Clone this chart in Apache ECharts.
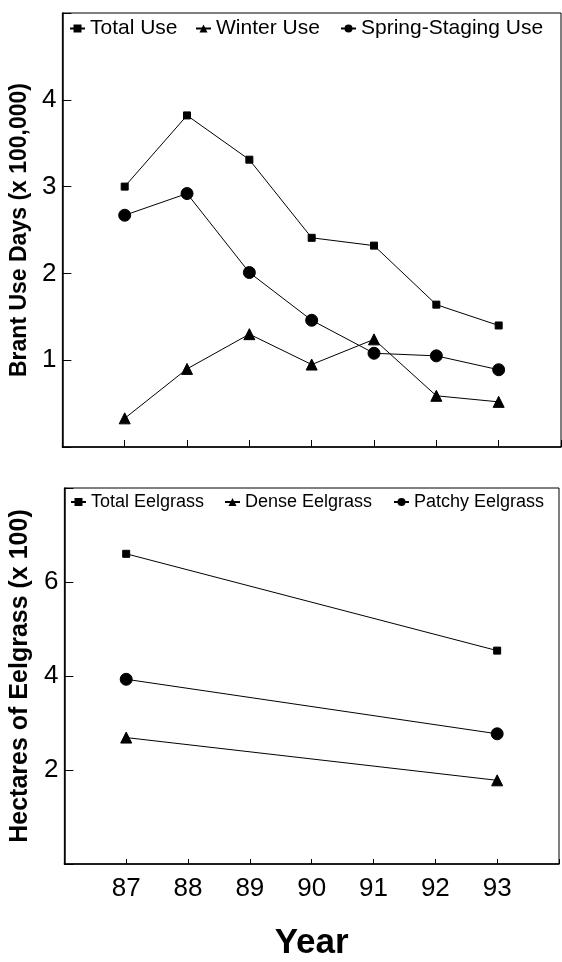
<!DOCTYPE html>
<html>
<head>
<meta charset="utf-8">
<script src="https://cdn.jsdelivr.net/npm/echarts@6/dist/echarts.min.js"></script>
<style>
html,body{margin:0;padding:0;background:#fff;}
#chart{width:562px;height:962px;}
</style>
</head>
<body>
<div id="chart"></div>
<script>
// ---- data ----
const years = [87, 88, 89, 90, 91, 92, 93];
const totalUse = [3.00, 3.82, 3.31, 2.41, 2.32, 1.64, 1.40];
const winterUse = [0.33, 0.90, 1.30, 0.95, 1.24, 0.59, 0.52];
const springUse = [2.67, 2.92, 2.01, 1.46, 1.08, 1.05, 0.89];
const eelYears = [87, 93];
const totalEel = [6.60, 4.54];
const denseEel = [2.69, 1.78];
const patchyEel = [3.93, 2.77];
const xTickLabels = [87, 88, 89, 90, 91, 92, 93];
const yTickLabelsTop = [1, 2, 3, 4];
const yTickLabelsBottom = [2, 4, 6];

const FONT = 'Liberation Sans, Arial, Helvetica, sans-serif';
const pairs = (xs, ys) => xs.map((x, i) => [x, ys[i]]);

function lineSeries(name, xs, ys, symbol, size, idx) {
  return {
    name: name, type: 'line', xAxisIndex: idx, yAxisIndex: idx,
    data: pairs(xs, ys), symbol: symbol, symbolSize: size,
    lineStyle: {color: '#000', width: 1},
    itemStyle: {color: '#000', borderColor: '#000'},
    animation: false
  };
}
function legend(name, left, top, fs) {
  return {
    data: [name], left: left, top: top, itemWidth: 15, itemHeight: 10,
    padding: 0, itemGap: 0,
    textStyle: {fontFamily: FONT, fontSize: fs, color: '#000'},
    selectedMode: false
  };
}
const axisBase = {
  axisLine: {lineStyle: {color: '#000', width: 1.5}},
  splitLine: {show: false}
};

const chart = echarts.init(document.getElementById('chart'), null, {renderer: 'canvas'});
chart.setOption({
  backgroundColor: '#fff',
  animation: false,
  legend: [
    legend('Total Use', 69, 18, 21),
    legend('Winter Use', 195, 18, 21),
    legend('Spring-Staging Use', 340, 18, 21),
    legend('Total Eelgrass', 70, 493, 18),
    legend('Dense Eelgrass', 224, 493, 18),
    legend('Patchy Eelgrass', 393, 493, 18)
  ],
  grid: [
    {left: 58, right: 1, top: 13, height: 434, show: true, borderColor: '#000', borderWidth: 1},
    {left: 58, right: 1, top: 488, height: 381, show: true, borderColor: '#000', borderWidth: 1}
  ],
  xAxis: [
    Object.assign({}, axisBase, {
      type: 'value', gridIndex: 0, min: 86, max: 94, interval: 1,
      axisTick: {inside: true, length: 7, lineStyle: {color: '#000'}},
      axisLabel: {show: false}
    }),
    Object.assign({}, axisBase, {
      type: 'value', gridIndex: 1, min: 86, max: 94, interval: 1,
      axisTick: {inside: true, length: 5, lineStyle: {color: '#000'}},
      axisLabel: {
        fontFamily: FONT, fontSize: 26, color: '#000', margin: 12,
        formatter: v => xTickLabels.indexOf(v) >= 0 ? String(v) : ''
      },
      name: 'Year', nameLocation: 'middle', nameGap: 62,
      nameTextStyle: {fontFamily: FONT, fontSize: 35, fontWeight: 'bold', color: '#000'}
    })
  ],
  yAxis: [
    Object.assign({}, axisBase, {
      type: 'value', gridIndex: 0, min: 0, max: 5, interval: 1,
      axisTick: {inside: true, length: 9, lineStyle: {color: '#000'}},
      axisLabel: {
        fontFamily: FONT, fontSize: 26, color: '#000', margin: 6,
        formatter: v => yTickLabelsTop.indexOf(v) >= 0 ? String(v) : ''
      },
      name: 'Brant Use Days (x 100,000)', nameLocation: 'middle', nameGap: 22,
      nameTextStyle: {fontFamily: FONT, fontSize: 23, fontWeight: 'bold', color: '#000'}
    }),
    Object.assign({}, axisBase, {
      type: 'value', gridIndex: 1, min: 0, max: 8, interval: 2,
      axisTick: {inside: true, length: 9, lineStyle: {color: '#000'}},
      axisLabel: {
        fontFamily: FONT, fontSize: 26, color: '#000', margin: 6,
        formatter: v => yTickLabelsBottom.indexOf(v) >= 0 ? String(v) : ''
      },
      name: 'Hectares of Eelgrass (x 100)', nameLocation: 'middle', nameGap: 22,
      nameTextStyle: {fontFamily: FONT, fontSize: 25, fontWeight: 'bold', color: '#000'}
    })
  ],
  series: [
    lineSeries('Total Use', years, totalUse, 'rect', 7, 0),
    lineSeries('Winter Use', years, winterUse, 'triangle', 11, 0),
    lineSeries('Spring-Staging Use', years, springUse, 'circle', 12, 0),
    lineSeries('Total Eelgrass', eelYears, totalEel, 'rect', 7, 1),
    lineSeries('Dense Eelgrass', eelYears, denseEel, 'triangle', 11, 1),
    lineSeries('Patchy Eelgrass', eelYears, patchyEel, 'circle', 12, 1)
  ]
});
</script>
</body>
</html>
